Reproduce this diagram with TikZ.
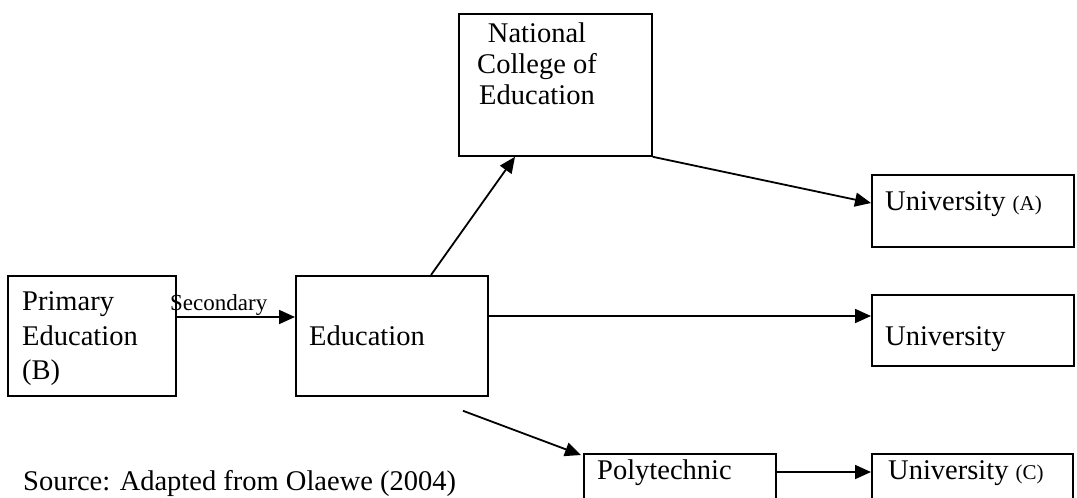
\documentclass[tikz,border=0pt]{standalone}
\usepackage{fontspec}
\setmainfont{Liberation Serif}
\usetikzlibrary{arrows.meta,calc}
\begin{document}
\begin{tikzpicture}[x=1pt,y=-1pt,
  box/.style={draw, line width=1.8pt, inner sep=0pt, anchor=north west},
  arr/.style={line width=1.8pt, -{Triangle[length=16pt,width=14pt]}},
  txt/.style={anchor=base west, inner sep=0pt, font=\fontsize{28.5}{33}\selectfont},
  ctxt/.style={anchor=base, inner sep=0pt, font=\fontsize{28.5}{33}\selectfont},
  small/.style={font=\fontsize{23}{26}\selectfont}]
\useasboundingbox (0,0) rectangle (1077,498);
\clip (0,0) rectangle (1077,498);
% boxes
\node[box, minimum width=168pt, minimum height=120pt] (prim) at (7,275) {};
\node[box, minimum width=192pt, minimum height=120pt] (edu) at (295,275) {};
\node[box, minimum width=193pt, minimum height=142pt] (nce) at (458,13) {};
\node[box, minimum width=202pt, minimum height=72pt] (ua) at (871,174) {};
\node[box, minimum width=202pt, minimum height=71pt] (ub) at (871,294) {};
\node[box, minimum width=192pt, minimum height=80pt] (poly) at (583,453) {};
\node[box, minimum width=201pt, minimum height=80pt] (uc) at (871,453) {};
% texts
\node[txt] (p1) at (22,310) {Primary};
\node[txt] (p2) at (22,345) {Education};
\node[txt] (p3) at (22,379) {(B)};
\node[txt, small] (sec) at (170,310) {Secondary};
\node[txt] (e1) at (309,345) {Education};
\node[ctxt] (n1) at (537,42) {National};
\node[ctxt] (n2) at (537,73) {College of};
\node[ctxt] (n3) at (537,104) {Education};
\node[txt] (ta) at (885,210) {University {\fontsize{21}{24}\selectfont(A)}};
\node[txt] (tb) at (885,345) {University};
\node[txt] (tp) at (597,479) {Polytechnic};
\node[txt] (tc) at (888,479) {University {\fontsize{21}{24}\selectfont(C)}};
\node[txt] (src) at (23,490) {Source: Adapted from Olaewe (2004)};
% connectors
\coordinate (polystart) at ($(edu.south west)+(168,14)$);
\draw[arr] ($(prim.north east)+(0,42)$) -- ($(edu.north west)+(0,42)$);
\draw[arr] ($(edu.north west)+(136,0)$) -- ($(nce.south west)+(57,0)$);
\draw[arr] (nce.south east) -- ($(ua.north west)+(0,29)$);
\draw[arr] ($(edu.north east)+(0,41)$) -- ($(ub.north west)+(0,22)$);
\draw[arr] (polystart) -- ($(poly.north west)+(-2,2)$);
\draw[arr] ($(poly.north east)+(0,19)$) -- ($(uc.north west)+(0,19)$);
\end{tikzpicture}
\end{document}
